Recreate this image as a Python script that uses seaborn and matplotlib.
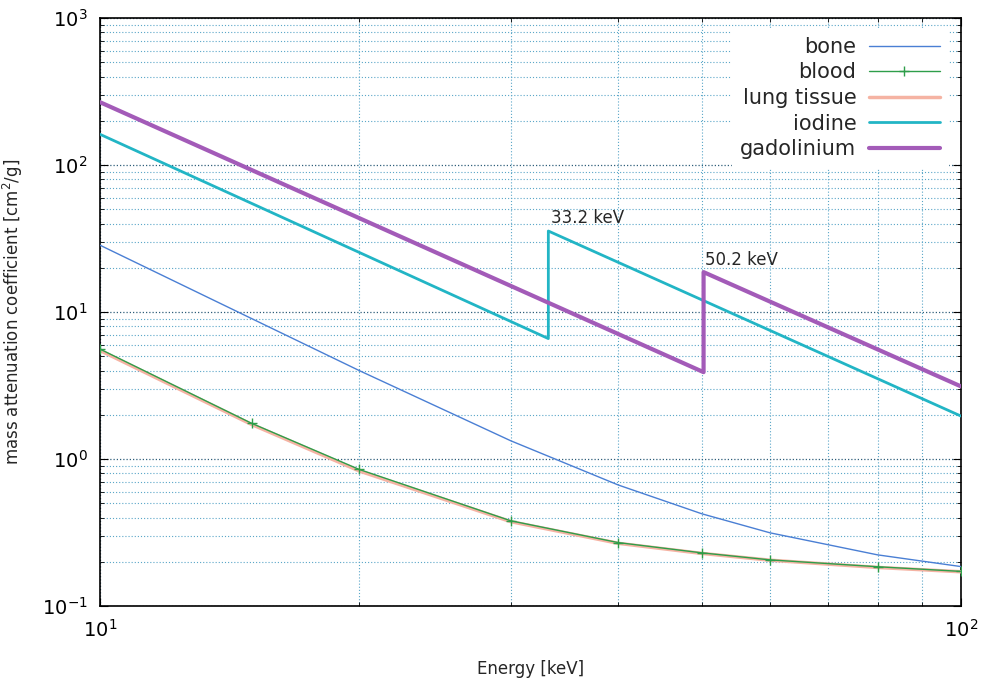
import pandas as pd
import seaborn as sns
import matplotlib.pyplot as plt
from matplotlib.ticker import NullFormatter

# energies [keV] for the tabulated materials
energy = [10, 15, 20, 30, 40, 50, 60, 80, 100]
bone = [28.51, 9.032, 4.001, 1.331, 0.6655, 0.4242, 0.3148, 0.2229, 0.1855]
blood = [5.60, 1.75, 0.85, 0.38, 0.27, 0.23, 0.206, 0.185, 0.172]
lung = [5.48, 1.72, 0.83, 0.375, 0.267, 0.228, 0.205, 0.183, 0.171]

# contrast agents (K-edges)
iodine_e = [10, 33.17, 33.17, 100]
iodine = [162, 6.6, 35.6, 1.96]
gd_e = [10, 50.24, 50.24, 100]
gadolinium = [268, 3.9, 18.7, 3.12]

sns.set_style("ticks")
plt.rcParams['font.family'] = ['DejaVu Sans']

fig = plt.figure(figsize=(9.84, 6.86), dpi=100)
ax = fig.add_axes([0.1016, 0.1166, 0.875, 0.857])

sns.lineplot(x=energy, y=bone, ax=ax, color='#4a7fd4', lw=1, label='bone',
             estimator=None, sort=False, zorder=3)
sns.lineplot(x=energy, y=blood, ax=ax, color='#2e9e4a', lw=1, label='blood',
             marker='+', markersize=7, mew=1, mec='#2e9e4a', mfc='#2e9e4a',
             estimator=None, sort=False, zorder=4)
sns.lineplot(x=energy, y=lung, ax=ax, color='#f5b3a3', lw=2.5, label='lung tissue',
             estimator=None, sort=False, zorder=3)
sns.lineplot(x=iodine_e, y=iodine, ax=ax, color='#22b5c5', lw=2, label='iodine',
             estimator=None, sort=False, zorder=3)
sns.lineplot(x=gd_e, y=gadolinium, ax=ax, color='#a35bb8', lw=3, label='gadolinium',
             estimator=None, sort=False, zorder=3)

ax.set_xscale('log')
ax.set_yscale('log')
ax.set_xlim(10, 100)
ax.set_ylim(0.1, 1000)
ax.xaxis.set_minor_formatter(NullFormatter())
ax.yaxis.set_minor_formatter(NullFormatter())

ax.grid(True, which='major', color='#2f5f7a', ls=(0, (1, 1.6)), lw=0.9)
ax.grid(True, which='minor', color='#5aa6c8', ls=(0, (1, 1.8)), lw=0.8)
ax.tick_params(which='both', direction='in', top=True, right=True, colors='black')
ax.tick_params(which='major', length=6, labelsize=14, pad=9)
ax.tick_params(which='minor', length=3)
for s in ax.spines.values():
    s.set_linewidth(1.2)
    s.set_color('black')

ax.text(33.4, 43.5, '33.2 keV', fontsize=12, va='center', ha='left')
ax.text(50.4, 22.6, '50.2 keV', fontsize=12, va='center', ha='left')

ax.set_xlabel('Energy [keV]', fontsize=12, labelpad=14)
ax.set_ylabel('mass attenuation coefficient [cm$^2$/g]', fontsize=12, labelpad=12)

leg = ax.legend(loc='upper right', bbox_to_anchor=(0.997, 1.0), markerfirst=False,
                fontsize=15, handlelength=3.4, labelspacing=0.27, frameon=True,
                fancybox=False, borderpad=0.4, handletextpad=0.6)
leg.get_frame().set_edgecolor('white')
leg.get_frame().set_facecolor('white')
leg.get_frame().set_alpha(1)
leg._legend_box.align = 'right'

fig.savefig('out.png', dpi=100)
